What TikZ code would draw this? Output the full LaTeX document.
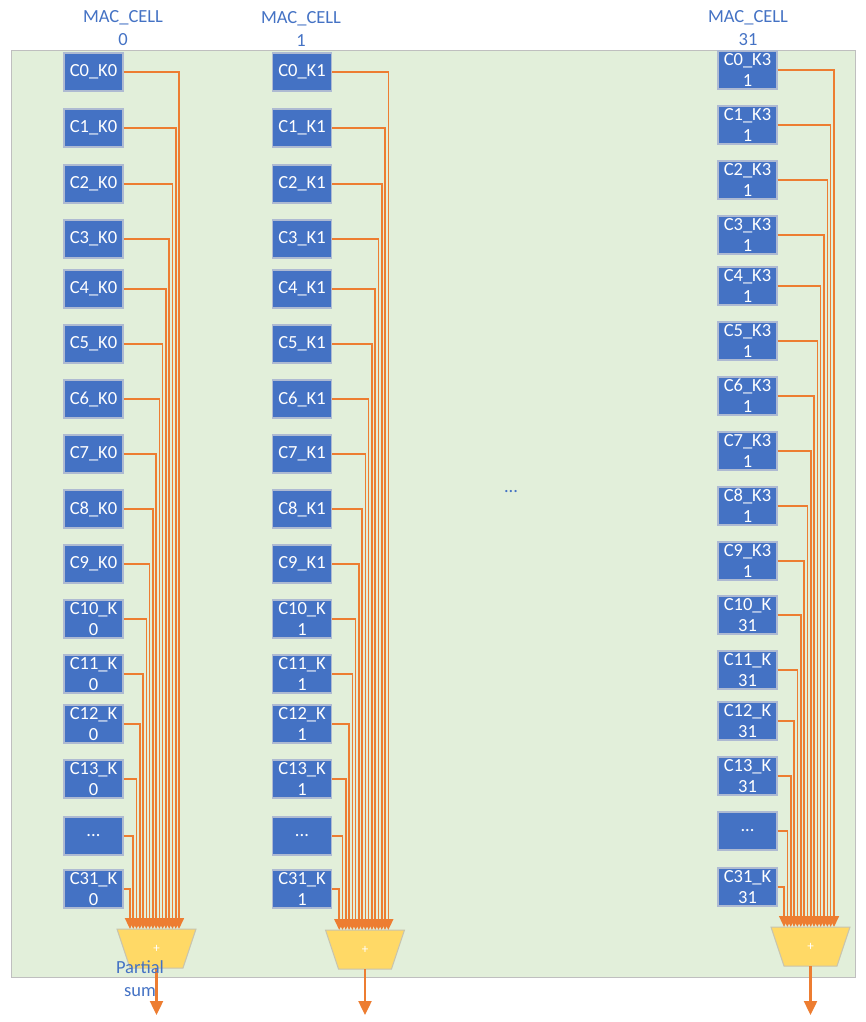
\documentclass[tikz,border=0pt]{standalone}
\usepackage{fontspec}
\setmainfont{Carlito}
\usetikzlibrary{arrows.meta,calc}
\definecolor{bgfill}{HTML}{E2EFDA}
\definecolor{bgline}{HTML}{BFBFBF}
\definecolor{cellblue}{HTML}{4472C4}
\definecolor{cellline}{HTML}{AEBAD2}
\definecolor{wireor}{HTML}{ED7D31}
\definecolor{addfill}{HTML}{FFD966}
\definecolor{addline}{HTML}{C8C4AE}
\tikzset{
  cell/.style={draw=cellline, line width=1.2pt, fill=cellblue, text=white,
    minimum width=59pt, minimum height=38pt, inner sep=0pt, align=center,
    font=\fontsize{18.5}{21}\selectfont},
  wire/.style={draw=wireor, line width=1.6pt, -{Triangle[length=11pt,width=10pt]}},
  outwire/.style={draw=wireor, line width=2.4pt, -{Triangle[length=14pt,width=13pt]}},
  adder/.style={fill=addfill, draw=addline, line width=1pt},
  plus/.style={text=white, font=\fontsize{13}{14}\selectfont, inner sep=0pt},
  title/.style={text=cellblue, align=center, font=\fontsize{18.5}{23}\selectfont},
}
% #1 name, #2 x left, #3 ys, #4 vertical x0, #5 step, #6 first suffix, #7 k number, #8 adder top y, #9 adder center x
\newcommand\maccolumn[9]{%
  \foreach \yy [count=\i from 0] in {#3} {
    \ifnum\i<10 \def\lab{C\i\_#6}\else\ifnum\i<14 \def\lab{C\i\_K\\#7}\else\ifnum\i=14 \def\lab{...}\else\def\lab{C31\_K\\#7}\fi\fi\fi
    \node[cell] (#1-\i) at (#2+29.5, \yy) {\lab};
    \pgfmathsetmacro\vx{#4-\i*#5}
    \coordinate (#1-t\i) at (\vx, #8);
    \draw[wire] (#1-\i.east) -| (#1-t\i);
  }
  \path[adder] (#9-39.5, #8) -- (#9+39.5, #8) -- (#9+26.5, #8+39) -- (#9-26.5, #8+39) -- cycle;
  \node[plus] (#1-add) at (#9, #8+19.5) {+};
  \coordinate (#1-bot) at (#9, #8+39);
  \coordinate (#1-out) at (#9, 1015);
  \draw[outwire] (#1-bot) -- (#1-out);
}
\begin{document}
\begin{tikzpicture}[x=1pt, y=-1pt]
\useasboundingbox (0,0) rectangle (866,1022);
\draw[fill=bgfill, draw=bgline, line width=1pt] (11,51) rectangle (855,977);
\node[title] (lab0) at (123,28.5) {MAC\_CELL\\0};
\node[title] (lab1) at (301,28.5) {MAC\_CELL\\1};
\node[title] (lab31) at (748,28.5) {MAC\_CELL\\31};
\maccolumn{a}{64}{72,128,184,239,289,344,399,454,509,564,619,674,724,779,836,889}{179}{3.27}{K0}{0}{929}{156.5}
\maccolumn{b}{272.5}{72,128,184,239,289,344,399,454,509,564,619,674,724,779,836,889}{388.3}{3.27}{K1}{1}{930}{365}
\maccolumn{c}{718}{70,125,180,235,286,341,396,451,506,561,615,670,721,776,831,887}{834}{3.33}{K3\\1}{31}{927}{810.5}
\node[title] (dots) at (511,492) {...};
\node[title] (psum) at (140,978.5) {Partial\\sum};
\end{tikzpicture}
\end{document}
